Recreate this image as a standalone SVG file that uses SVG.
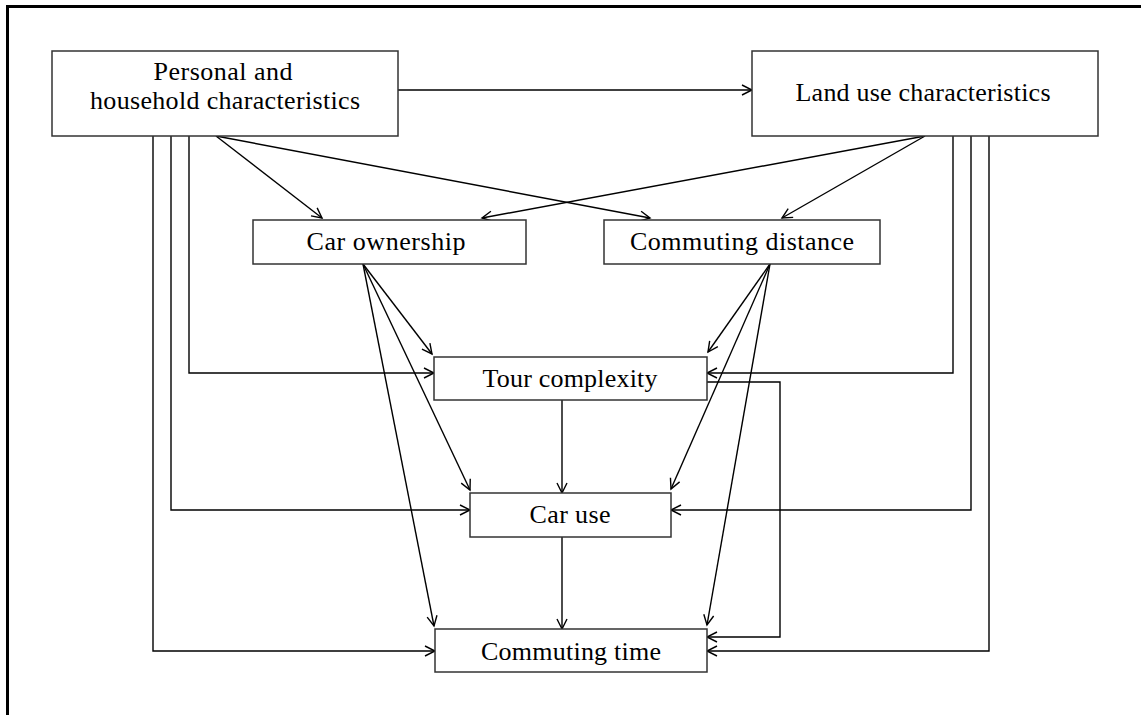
<svg xmlns="http://www.w3.org/2000/svg" width="1141" height="715" viewBox="0 0 1141 715">
  <style>
    .box { fill: #ffffff; stroke: #333333; stroke-width: 1.5; }
    .lbl { font-family: "Liberation Serif", "Times New Roman", serif; font-size: 26px; fill: #000000; text-anchor: middle; }
    .edge { fill: none; stroke: #000000; stroke-width: 1.4; marker-end: url(#arrow); }
    .frame { fill: none; stroke: #000000; stroke-width: 3; }
  </style>
  <defs>
    <marker id="arrow" markerUnits="userSpaceOnUse" markerWidth="12" markerHeight="12" refX="10" refY="5" orient="auto" overflow="visible">
      <path d="M0,0 L10,5 L0,10" fill="none" stroke="#000000" stroke-width="1.4"/>
    </marker>
  </defs>

  <rect width="1141" height="715" fill="#ffffff"/>

  <!-- page frame -->
  <path class="frame" d="M7.5,715 V6.5 H1141"/>

  <!-- connectors -->
  <g id="connectors">
    <path class="edge" d="M398,90 H752"/>
    <path class="edge" d="M216,136 L322,218"/>
    <path class="edge" d="M216,136 L650,218"/>
    <path class="edge" d="M925,136 L482,218"/>
    <path class="edge" d="M925,136 L782,218"/>
    <path class="edge" d="M189,136 V373 H434"/>
    <path class="edge" d="M171,136 V510 H470"/>
    <path class="edge" d="M153,136 V651 H435"/>
    <path class="edge" d="M953,136 V373 H707"/>
    <path class="edge" d="M971,136 V510 H671"/>
    <path class="edge" d="M989,136 V651 H707"/>
    <path class="edge" d="M363,264 L432,354"/>
    <path class="edge" d="M363,264 L470,490"/>
    <path class="edge" d="M363,264 L434,626"/>
    <path class="edge" d="M770,264 L708,352"/>
    <path class="edge" d="M770,264 L671,489"/>
    <path class="edge" d="M770,264 L707,625"/>
    <path class="edge" d="M562,400 V493"/>
    <path class="edge" d="M562,537 V629"/>
    <path class="edge" d="M707,382 H780 V637 H707"/>
  </g>

  <g id="personal">
    <rect class="box" x="52" y="51" width="346" height="85"/>
    <text class="lbl" x="223" y="80" textLength="139" lengthAdjust="spacing">Personal and</text>
    <text class="lbl" x="225" y="109" textLength="270" lengthAdjust="spacing">household characteristics</text>
  </g>

  <g id="landuse">
    <rect class="box" x="752" y="51" width="346" height="85"/>
    <text class="lbl" x="923" y="101" textLength="255" lengthAdjust="spacing">Land use characteristics</text>
  </g>

  <g id="carownership">
    <rect class="box" x="253" y="220" width="273" height="44"/>
    <text class="lbl" x="386" y="250" textLength="159" lengthAdjust="spacing">Car ownership</text>
  </g>

  <g id="commutingdistance">
    <rect class="box" x="604" y="220" width="276" height="44"/>
    <text class="lbl" x="742" y="250" textLength="224" lengthAdjust="spacing">Commuting distance</text>
  </g>

  <g id="tourcomplexity">
    <rect class="box" x="434" y="357" width="273" height="43"/>
    <text class="lbl" x="570" y="387" textLength="175" lengthAdjust="spacing">Tour complexity</text>
  </g>

  <g id="caruse">
    <rect class="box" x="470" y="493" width="201" height="44"/>
    <text class="lbl" x="570" y="523" textLength="81" lengthAdjust="spacing">Car use</text>
  </g>

  <g id="commutingtime">
    <rect class="box" x="435" y="629" width="272" height="43"/>
    <text class="lbl" x="571" y="660" textLength="180" lengthAdjust="spacing">Commuting time</text>
  </g>
</svg>
